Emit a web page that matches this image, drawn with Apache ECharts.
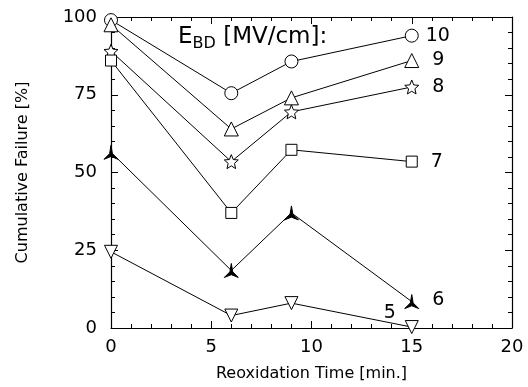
<!DOCTYPE html>
<html>
<head>
<meta charset="utf-8">
<script src="https://cdn.jsdelivr.net/npm/echarts@6/dist/echarts.min.js"></script>
<style>
  html, body { margin: 0; padding: 0; background: #fff; }
  #main { width: 528px; height: 387px; }
</style>
</head>
<body>
<div id="main"></div>
<script>
// reoxidation time (min.)
var times = [0, 6, 9, 15];
// cumulative failure [%] for each E_BD level
var ebd10 = [99, 75.5, 85.7, 94];
var ebd9 = [97.5, 64, 74, 86];
var ebd8 = [89, 53.5, 69.5, 77.5];
var ebd7 = [86, 37, 57.3, 53.5];
var ebd6 = [56.5, 18.5, 37, 8.5];
var ebd5 = [24.5, 4, 8, 0.3];
var seriesNames = ['10', '9', '8', '7', '6', '5'];

var starPath = 'path://M10 0 L12.65 6.36 L19.51 6.91 L14.28 11.39 L15.88 18.09 L10 14.5 L4.12 18.09 L5.72 11.39 L0.49 6.91 L7.35 6.36 Z';
var triStarPath = 'path://M10 0 L11.73 9 L18.66 15 L10 12 L1.34 15 L8.27 9 Z';
var triDownPath = 'path://M0 0 L20 0 L10 17 Z';
var font = 'DejaVu Sans';

function pts(vals) {
    var out = [];
    for (var i = 0; i < vals.length; i++) out.push([times[i], vals[i]]);
    return out;
}

function mk(name, vals, symbol, size, fill, labelPos, labelOff) {
    return {
        name: name,
        type: 'line',
        data: pts(vals),
        symbol: symbol,
        symbolSize: size,
        showAllSymbol: true,
        clip: false,
        lineStyle: { color: '#000', width: 1 },
        itemStyle: { color: fill, borderColor: '#000', borderWidth: 1 },
        label: {
            show: true,
            position: labelPos,
            offset: labelOff,
            color: '#000',
            fontFamily: font,
            fontSize: 19,
            formatter: function (p) { return p.dataIndex == vals.length - 1 ? name : ''; }
        },
        emphasis: { disabled: true },
        z: 3
    };
}

var chart = echarts.init(document.getElementById('main'));

function axisStyle(extra) {
    return Object.assign({
        axisLine: { onZero: false, lineStyle: { color: '#000', width: 1.2 } },
        axisTick: { inside: true, length: 7, lineStyle: { color: '#000' } },
        minorTick: { show: true, splitNumber: 5, length: 4, lineStyle: { color: '#000' } },
        splitLine: { show: false }
    }, extra);
}

chart.setOption({
    animation: false,
    backgroundColor: '#fff',
    grid: { left: 111, right: 16, top: 17, bottom: 57 },
    xAxis: [
        axisStyle({
            type: 'value', min: 0, max: 20, interval: 5,
            name: 'Reoxidation Time [min.]',
            nameLocation: 'middle', nameGap: 38,
            nameTextStyle: { fontFamily: font, fontSize: 16, color: '#000' },
            axisLabel: { color: '#000', fontFamily: font, fontSize: 18, margin: 10 }
        }),
        axisStyle({
            type: 'value', min: 0, max: 20, interval: 5, position: 'top',
            axisLabel: { show: false }
        })
    ],
    yAxis: [
        axisStyle({
            type: 'value', min: 0, max: 100, interval: 25,
            name: 'Cumulative Failure [%]',
            nameLocation: 'middle', nameGap: 80,
            nameTextStyle: { fontFamily: font, fontSize: 16, color: '#000' },
            axisLabel: { color: '#000', fontFamily: font, fontSize: 18, margin: 14 }
        }),
        axisStyle({
            type: 'value', min: 0, max: 100, interval: 25, position: 'right',
            axisLabel: { show: false }
        })
    ],
    graphic: [{
        type: 'text',
        left: 178,
        top: 26,
        style: {
            text: '{e|E}{s|BD} {e|[MV/cm]:}',
            rich: {
                e: { fontFamily: font, fontSize: 23, fill: '#000' },
                s: { fontFamily: font, fontSize: 16, fill: '#000', padding: [12, 4, 0, 0] }
            }
        }
    }],
    series: [
        mk(seriesNames[0], ebd10, 'circle', 13, '#fff', 'right', [2, 0]),
        mk(seriesNames[1], ebd9, 'triangle', 14, '#fff', 'right', [8, 0]),
        mk(seriesNames[2], ebd8, starPath, 14, '#fff', 'right', [8, 0]),
        mk(seriesNames[3], ebd7, 'rect', 11, '#fff', 'right', [8, 0]),
        mk(seriesNames[4], ebd6, triStarPath, 14, '#000', 'right', [8, -2]),
        mk(seriesNames[5], ebd5, triDownPath, 13, '#fff', 'left', [-4, -14])
    ]
});
</script>
</body>
</html>
